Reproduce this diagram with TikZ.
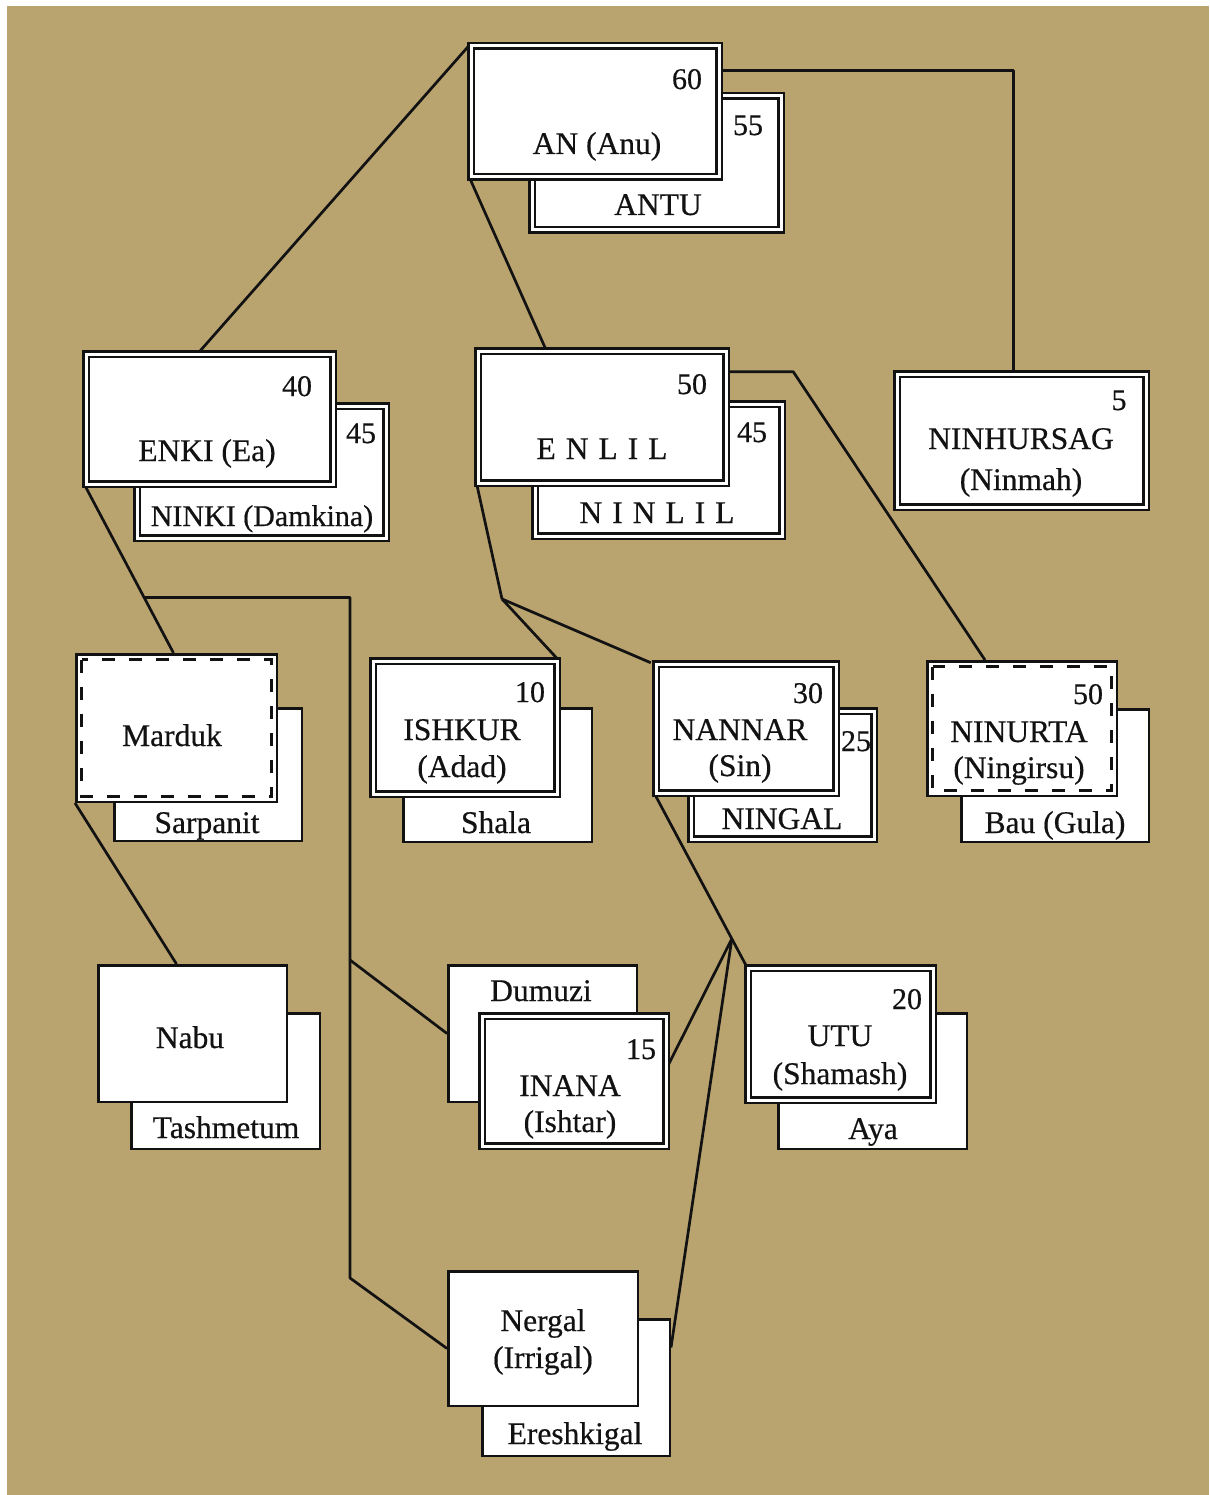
\documentclass[tikz,border=0pt]{standalone}
\usepackage{fontspec}
\setmainfont[FakeBold=0.5]{Liberation Serif}
\usetikzlibrary{calc}
\pgfdeclarelayer{bg}
\pgfsetlayers{bg,main}
\definecolor{tanbg}{RGB}{185,163,111}
\definecolor{ink}{RGB}{18,18,18}
\newcommand{\lsp}{\hspace{10pt}}
\begin{document}
\begin{tikzpicture}[x=1pt,y=-1pt,
  sbox/.style={draw=ink, line width=2.5pt, fill=white, inner sep=0pt},
  dbox/.style={draw=ink, line width=2.5pt, double=white, double distance=3pt, fill=white, inner sep=0pt},
  dashin/.style={draw=ink, line width=3.2pt, dash pattern=on 13pt off 14pt},
  conn/.style={draw=ink, line width=2.7pt, line join=round},
  lbl/.style={inner sep=0pt, anchor=base, text=ink, font=\fontsize{31.5}{34}\selectfont},
  num/.style={inner sep=0pt, anchor=base, text=ink, font=\fontsize{30}{32}\selectfont}]
\useasboundingbox (0,0) rectangle (1209,1495);
\begin{pgfonlayer}{bg}
\fill[white] (0,0) rectangle (1209,1495);
\fill[tanbg] (7,6) rectangle (1209,1495);
\end{pgfonlayer}

% back boxes
\node[dbox, minimum width=249, minimum height=134] (antu) at (656.5,163) {};
\node[dbox, minimum width=249, minimum height=132] (ninki) at (261.5,472) {};
\node[dbox, minimum width=247, minimum height=132] (ninlil) at (658.5,470) {};
\node[sbox, minimum width=187.5, minimum height=132.5] (sarpanit) at (208,774.5) {};
\node[sbox, minimum width=188.5, minimum height=133.5] (shala) at (497.5,775) {};
\node[dbox, minimum width=183, minimum height=128] (ningal) at (782.5,775) {};
\node[sbox, minimum width=187.5, minimum height=132.5] (bau) at (1055,775.5) {};
\node[sbox, minimum width=188.5, minimum height=135.5] (tashmetum) at (225.5,1081) {};
\node[sbox, minimum width=188.5, minimum height=136.5] (dumuzi) at (542.5,1033.5) {};
\node[sbox, minimum width=188.5, minimum height=135.5] (aya) at (872.5,1081) {};
\node[sbox, minimum width=187.5, minimum height=136.5] (ereshkigal) at (576,1387.5) {};

% front boxes
\node[dbox, minimum width=248, minimum height=131] (an) at (595,111.5) {};
\node[dbox, minimum width=247, minimum height=130] (enki) at (209.5,419) {};
\node[dbox, minimum width=248, minimum height=132] (enlil) at (602,417) {};
\node[dbox, minimum width=249, minimum height=133] (ninhursag) at (1021.5,440.5) {};
\node[sbox, minimum width=200.5, minimum height=147.5] (marduk) at (176.5,728) {};
\draw[dashin] ($(marduk.north west)+(6.5,6.5)$) rectangle ($(marduk.south east)+(-6.5,-6.5)$);
\node[dbox, minimum width=184, minimum height=133] (ishkur) at (465,727.5) {};
\node[dbox, minimum width=180, minimum height=129] (nannar) at (746,728.5) {};
\node[sbox, minimum width=189.5, minimum height=134.5] (ninurta) at (1022,728.5) {};
\draw[dashin] ($(ninurta.north west)+(6.5,6.5)$) rectangle ($(ninurta.south east)+(-6.5,-6.5)$);
\node[sbox, minimum width=188.5, minimum height=136.5] (nabu) at (192.5,1033.5) {};
\node[dbox, minimum width=184, minimum height=130] (inana) at (574,1081) {};
\node[dbox, minimum width=185, minimum height=132] (utu) at (840.5,1034) {};
\node[sbox, minimum width=189.5, minimum height=134.5] (nergal) at (543,1338.5) {};

% labels
\node[num] (n60) at (687,89) {60};
\node[lbl] (tan) at (597,154) {AN (Anu)};
\node[num] (n55) at (748,135) {55};
\node[lbl] (tantu) at (658,215) {ANTU};
\node[num] (n40) at (297,396) {40};
\node[lbl] (tenki) at (207,461) {ENKI (Ea)};
\node[num] (n45a) at (361,443) {45};
\node[lbl, font=\fontsize{30}{32}\selectfont] (tninki) at (262,526) {NINKI (Damkina)};
\node[num] (n50a) at (692,394) {50};
\node[lbl] (tenlil) at (602,459) {E\lsp N\lsp L\lsp I\lsp L};
\node[num] (n45b) at (752,442) {45};
\node[lbl] (tninlil) at (657,523) {N\lsp I\lsp N\lsp L\lsp I\lsp L};
\node[num] (n5) at (1119,410) {5};
\node[lbl] (tninh) at (1021,449) {NINHURSAG};
\node[lbl] (tninmah) at (1021,490) {(Ninmah)};
\node[lbl] (tmarduk) at (172,746) {Marduk};
\node[lbl] (tsarp) at (207,833) {Sarpanit};
\node[num] (n10) at (530,702) {10};
\node[lbl] (tishkur) at (462,740) {ISHKUR};
\node[lbl] (tadad) at (462,777) {(Adad)};
\node[lbl] (tshala) at (496,833) {Shala};
\node[num] (n30) at (808,703) {30};
\node[lbl] (tnannar) at (740,740) {NANNAR};
\node[lbl] (tsin) at (740,776) {(Sin)};
\node[num] (n25) at (856,751) {25};
\node[lbl] (tningal) at (782,829) {NINGAL};
\node[num] (n50b) at (1088,704) {50};
\node[lbl] (tninurta) at (1019,742) {NINURTA};
\node[lbl] (tningirsu) at (1019,778) {(Ningirsu)};
\node[lbl] (tbau) at (1055,833) {Bau (Gula)};
\node[lbl] (tnabu) at (190,1048) {Nabu};
\node[lbl] (ttash) at (226,1138) {Tashmetum};
\node[lbl] (tdumuzi) at (541,1001) {Dumuzi};
\node[num] (n15) at (641,1059) {15};
\node[lbl] (tinana) at (570,1096) {INANA};
\node[lbl] (tishtar) at (570,1132) {(Ishtar)};
\node[num] (n20) at (907,1009) {20};
\node[lbl] (tutu) at (840,1046) {UTU};
\node[lbl] (tshamash) at (840,1084) {(Shamash)};
\node[lbl] (taya) at (873,1139) {Aya};
\node[lbl] (tnergal) at (543,1331) {Nergal};
\node[lbl] (tirrigal) at (543,1368) {(Irrigal)};
\node[lbl] (teresh) at (575,1444) {Ereshkigal};

% connectors
\coordinate (j2) at (502,599);
\coordinate (v1) at (350,960);
\coordinate (v2) at (350,1278);
\begin{pgfonlayer}{bg}
\draw[conn] (an.north west) -- ([xshift=-11pt]enki.north);
\draw[conn] (an.south west) -- ([xshift=-56pt]enlil.north);
\draw[conn] ([yshift=-26pt]an.north east) -| ([xshift=-8pt]ninhursag.north);
\draw[conn] ([yshift=-22pt]enlil.north east) -- ++(66,0) -- ([xshift=-37pt]ninurta.north);
\draw[conn] (enki.south west) -- coordinate[pos=0.669] (j1) ([xshift=-3pt]marduk.north);
\draw[conn] (j1) -| (v2) -- ([yshift=-10pt]nergal.west);
\draw[conn] (v1) -- (dumuzi.west);
\draw[conn] (marduk.south west) -- ([xshift=-16pt]nabu.north);
\draw[conn] (enlil.south west) -- (j2);
\draw[conn] (j2) -- (ishkur.north east);
\draw[conn] (j2) -- ([xshift=-4pt]nannar.north west);
\draw[conn] (nannar.south west) -- coordinate[pos=0.838] (j3) (utu.north west);
\draw[conn] (j3) -- ([yshift=14pt]inana.east);
\draw[conn] (j3) -- ([yshift=40pt]ereshkigal.east);
\end{pgfonlayer}
\end{tikzpicture}
\end{document}
